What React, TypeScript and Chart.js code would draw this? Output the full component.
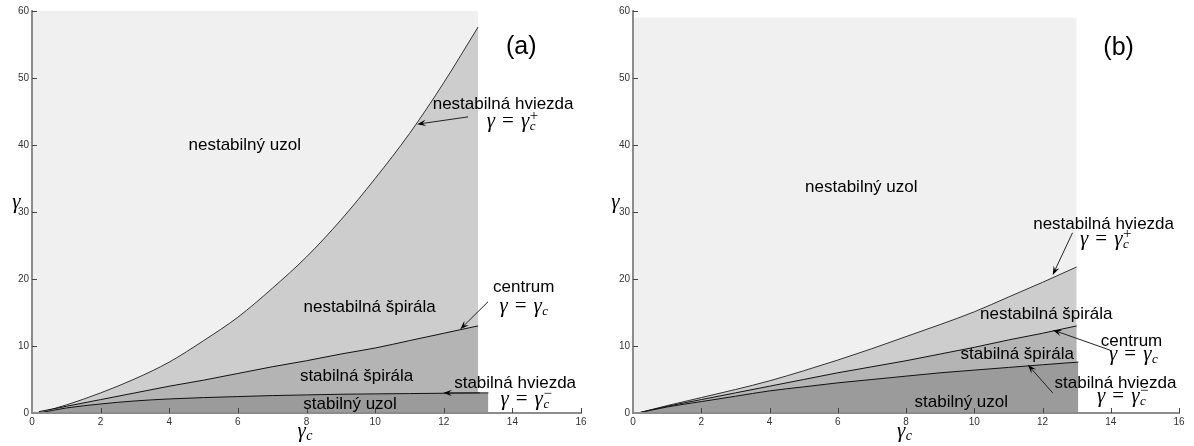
import React, { useEffect, useRef } from "react";
import { Chart, registerables } from "chart.js";

Chart.register(...registerables);

// ---------- Panel (a) data ----------
const xCurveA = [0.2, 1, 2, 3, 4, 5, 6, 7, 8, 9, 10, 11, 12, 13];
const topA = [0, 1.2, 3.0, 5.1, 7.6, 10.8, 14.3, 18.6, 23.3, 28.8, 35.0, 41.7, 49.3, 57.6];
const midA = [0.2, 1.0, 2.0, 3.0, 4.0, 4.9, 5.9, 6.9, 7.8, 8.8, 9.7, 10.8, 11.9, 13.0];
const xBotA = [0.2, 1, 2, 3, 4, 5, 6, 7, 8, 9, 10, 11, 12, 13, 13.3];
const botA = [0, 0.75, 1.35, 1.8, 2.1, 2.3, 2.45, 2.6, 2.7, 2.8, 2.85, 2.9, 2.95, 3.0, 3.0];
const xLightA = [0, 13];
const lightA = [60, 60];

// ---------- Panel (b) data ----------
const xCurveB = [0.15, 1, 2, 3, 4, 5, 6, 7, 8, 9, 10, 11, 12, 13];
const topB = [0, 1.1, 2.3, 3.5, 4.8, 6.3, 7.9, 9.6, 11.4, 13.2, 15.1, 17.3, 19.5, 21.8];
const midB = [0, 1.0, 2.0, 3.0, 4.0, 5.0, 6.0, 6.9, 7.8, 8.8, 9.8, 10.9, 11.9, 13.0];
const xBotB = [0.15, 1, 2, 3, 4, 5, 6, 7, 8, 9, 10, 11, 12, 13.05];
const botB = [0, 0.9, 1.7, 2.5, 3.3, 3.9, 4.5, 5.0, 5.5, 6.0, 6.4, 6.8, 7.2, 7.6];
const xLightB = [0, 13];
const lightB = [59, 59];

// ---------- axes ----------
const xTicks = [0, 2, 4, 6, 8, 10, 12, 14, 16];
const yTicks = [0, 10, 20, 30, 40, 50, 60];

const SANS = '"Liberation Sans", Arial, sans-serif';
const SERIF = '"Liberation Serif", "DejaVu Serif", serif';

type Note =
  | { kind: "text"; x: number; y: number; text: string; size?: number }
  | { kind: "eq"; x: number; y: number; sup: string }
  | { kind: "arrow"; x1: number; y1: number; x2: number; y2: number };

const notesA: Note[] = [
  { kind: "text", x: 6.2, y: 40, text: "nestabilný uzol" },
  { kind: "text", x: 14.26, y: 54.6, text: "(a)", size: 25 },
  { kind: "text", x: 13.73, y: 46.0, text: "nestabilná hviezda" },
  { kind: "eq", x: 13.97, y: 43.4, sup: "+" },
  { kind: "arrow", x1: 12.71, y1: 44.2, x2: 11.22, y2: 43.1 },
  { kind: "text", x: 9.84, y: 15.7, text: "nestabilná špirála" },
  { kind: "text", x: 14.33, y: 18.8, text: "centrum" },
  { kind: "eq", x: 14.34, y: 15.8, sup: "" },
  { kind: "arrow", x1: 13.29, y1: 16.6, x2: 12.48, y2: 12.5 },
  { kind: "text", x: 9.46, y: 5.5, text: "stabilná špirála" },
  { kind: "text", x: 14.08, y: 4.5, text: "stabilná hviezda" },
  { kind: "arrow", x1: 13.06, y1: 3.0, x2: 11.98, y2: 3.0 },
  { kind: "eq", x: 14.37, y: 1.9, sup: "−" },
  { kind: "text", x: 9.27, y: 1.3, text: "stabilný uzol" },
];

const notesB: Note[] = [
  { kind: "text", x: 6.69, y: 33.7, text: "nestabilný uzol" },
  { kind: "text", x: 14.23, y: 54.5, text: "(b)", size: 25 },
  { kind: "text", x: 13.79, y: 28.2, text: "nestabilná hviezda" },
  { kind: "eq", x: 13.82, y: 25.8, sup: "+" },
  { kind: "arrow", x1: 12.88, y1: 26.9, x2: 12.3, y2: 20.6 },
  { kind: "text", x: 12.11, y: 14.8, text: "nestabilná špirála" },
  { kind: "text", x: 14.61, y: 10.7, text: "centrum" },
  { kind: "eq", x: 14.67, y: 8.7, sup: "" },
  { kind: "arrow", x1: 13.97, y1: 9.4, x2: 12.3, y2: 12.4 },
  { kind: "text", x: 11.26, y: 8.7, text: "stabilná špirála" },
  { kind: "text", x: 14.14, y: 4.5, text: "stabilná hviezda" },
  { kind: "eq", x: 14.32, y: 2.4, sup: "−" },
  { kind: "arrow", x1: 12.3, y1: 3.0, x2: 11.57, y2: 7.2 },
  { kind: "text", x: 9.62, y: 1.6, text: "stabilný uzol" },
];

function drawEq(ctx: CanvasRenderingContext2D, cx: number, cy: number, sup: string) {
  const big = `italic 21px ${SERIF}`;
  const reg = `21px ${SERIF}`;
  const small = `italic 13px ${SERIF}`;
  const smallR = `15px ${SERIF}`;
  ctx.font = big;
  const wg = ctx.measureText("γ").width;
  ctx.font = reg;
  const we = ctx.measureText("=").width;
  ctx.font = small;
  const wc = ctx.measureText("c").width;
  const gap = 7;
  const total = wg + gap + we + gap + wg + wc + 1;
  let x = cx - total / 2;
  const base = cy + 5;
  ctx.textAlign = "left";
  ctx.textBaseline = "alphabetic";
  ctx.fillStyle = "#000";
  ctx.font = big;
  ctx.fillText("γ", x, base);
  x += wg + gap;
  ctx.font = reg;
  ctx.fillText("=", x, base);
  x += we + gap;
  ctx.font = big;
  ctx.fillText("γ", x, base);
  x += wg + 0.5;
  ctx.font = small;
  ctx.fillText("c", x, base + 3);
  if (sup) {
    ctx.font = smallR;
    ctx.fillText(sup, x, base - 7);
  }
}

function drawArrow(ctx: CanvasRenderingContext2D, x1: number, y1: number, x2: number, y2: number) {
  const ang = Math.atan2(y2 - y1, x2 - x1);
  const L = 9;
  const W = 3.2;
  ctx.strokeStyle = "#222";
  ctx.lineWidth = 1;
  ctx.beginPath();
  ctx.moveTo(x1, y1);
  ctx.lineTo(x2 - Math.cos(ang) * 4, y2 - Math.sin(ang) * 4);
  ctx.stroke();
  ctx.fillStyle = "#000";
  ctx.beginPath();
  ctx.moveTo(x2, y2);
  ctx.lineTo(x2 - L * Math.cos(ang) + W * Math.sin(ang), y2 - L * Math.sin(ang) - W * Math.cos(ang));
  ctx.lineTo(x2 - 0.6 * L * Math.cos(ang), y2 - 0.6 * L * Math.sin(ang));
  ctx.lineTo(x2 - L * Math.cos(ang) - W * Math.sin(ang), y2 - L * Math.sin(ang) + W * Math.cos(ang));
  ctx.closePath();
  ctx.fill();
}

function decorPlugin(notes: Note[], gammaX: number) {
  return {
    id: "decor",
    afterDraw(chart: any) {
      const { ctx, chartArea } = chart;
      const xs = chart.scales.x;
      const ys = chart.scales.y;
      ctx.save();
      // inward ticks
      ctx.strokeStyle = "#444";
      ctx.lineWidth = 1;
      ctx.beginPath();
      xTicks.forEach((v) => {
        if (v === 0) return;
        const px = Math.round(xs.getPixelForValue(v)) + 0.5;
        ctx.moveTo(px, chartArea.bottom);
        ctx.lineTo(px, chartArea.bottom - 5);
      });
      yTicks.forEach((v) => {
        if (v === 0) return;
        const py = Math.round(ys.getPixelForValue(v)) + 0.5;
        ctx.moveTo(chartArea.left, py);
        ctx.lineTo(chartArea.left + 5, py);
      });
      ctx.stroke();

      // annotations
      notes.forEach((n) => {
        if (n.kind === "text") {
          ctx.font = `${n.size ?? 17}px ${SANS}`;
          ctx.fillStyle = "#000";
          ctx.textAlign = "center";
          ctx.textBaseline = "middle";
          ctx.fillText(n.text, xs.getPixelForValue(n.x), ys.getPixelForValue(n.y));
        } else if (n.kind === "eq") {
          drawEq(ctx, xs.getPixelForValue(n.x), ys.getPixelForValue(n.y), n.sup);
        } else {
          drawArrow(
            ctx,
            xs.getPixelForValue(n.x1),
            ys.getPixelForValue(n.y1),
            xs.getPixelForValue(n.x2),
            ys.getPixelForValue(n.y2)
          );
        }
      });

      // axis titles
      ctx.fillStyle = "#000";
      ctx.textAlign = "center";
      ctx.textBaseline = "alphabetic";
      ctx.font = `italic 21px ${SERIF}`;
      ctx.fillText("γ", gammaX, ys.getPixelForValue(30) - 4);
      const cx = (chartArea.left + chartArea.right) / 2;
      ctx.textAlign = "left";
      ctx.font = `italic 21px ${SERIF}`;
      const wg = ctx.measureText("γ").width;
      ctx.fillText("γ", cx - 9, 437);
      ctx.font = `italic 14px ${SERIF}`;
      ctx.fillText("c", cx - 9 + wg + 0.5, 440);
      ctx.restore();
    },
  };
}

type Panel = {
  xTop: number[]; yTop: number[];
  xMid: number[]; yMid: number[];
  xBot: number[]; yBot: number[];
  xLight: number[]; yLight: number[];
  notes: Note[];
  yWidth: number;
  padRight: number;
  gammaX: number;
};

const pts = (xs: number[], ys: number[]) => xs.map((x, i) => ({ x, y: ys[i] }));

function makeConfig(p: Panel): any {
  const ds = (xs: number[], ys: number[], bg: string, bc: string, bw: number) => ({
    data: pts(xs, ys),
    fill: "origin",
    backgroundColor: bg,
    borderColor: bc,
    borderWidth: bw,
    pointRadius: 0,
    cubicInterpolationMode: "monotone",
  });
  return {
    type: "line",
    data: {
      datasets: [
        ds(p.xBot, p.yBot, "#9b9b9b", "#111", 1),
        ds(p.xMid, p.yMid, "#b4b4b4", "#111", 1),
        ds(p.xTop, p.yTop, "#cdcdcd", "#333", 1),
        ds(p.xLight, p.yLight, "#f0f0f0", "rgba(0,0,0,0)", 0),
      ],
    },
    options: {
      animation: false,
      responsive: false,
      events: [],
      layout: { padding: { left: 0, top: 11, right: p.padRight, bottom: 0 } },
      plugins: { legend: { display: false }, tooltip: { enabled: false } },
      scales: {
        x: {
          type: "linear",
          min: 0,
          max: 16,
          afterBuildTicks: (s: any) => {
            s.ticks = xTicks.map((v) => ({ value: v }));
          },
          afterFit: (s: any) => {
            s.height = 33;
          },
          grid: { display: false, drawTicks: false },
          border: { display: true, color: "#8c8c8c", width: 2, z: 1 },
          ticks: { font: { size: 10, family: SANS }, color: "#333", padding: 3, maxRotation: 0, autoSkip: false },
        },
        y: {
          type: "linear",
          min: 0,
          max: 60,
          afterBuildTicks: (s: any) => {
            s.ticks = yTicks.map((v) => ({ value: v }));
          },
          afterFit: (s: any) => {
            s.width = p.yWidth;
          },
          grid: { display: false, drawTicks: false },
          border: { display: true, color: "#8c8c8c", width: 2, z: 1 },
          ticks: { font: { size: 10, family: SANS }, color: "#333", padding: 3, autoSkip: false },
        },
      },
    },
    plugins: [decorPlugin(p.notes, p.gammaX)],
  };
}

const panelA: Panel = {
  xTop: xCurveA, yTop: topA,
  xMid: xCurveA, yMid: midA,
  xBot: xBotA, yBot: botA,
  xLight: xLightA, yLight: lightA,
  notes: notesA,
  yWidth: 32,
  padRight: 16,
  gammaX: 16.5,
};

const panelB: Panel = {
  xTop: xCurveB, yTop: topB,
  xMid: xCurveB, yMid: midB,
  xBot: xBotB, yBot: botB,
  xLight: xLightB, yLight: lightB,
  notes: notesB,
  yWidth: 36,
  padRight: 15,
  gammaX: 18.5,
};

function PanelChart({ panel, left }: { panel: Panel; left: number }) {
  const ref = useRef<HTMLCanvasElement | null>(null);
  useEffect(() => {
    if (!ref.current) return;
    const chart = new Chart(ref.current, makeConfig(panel));
    return () => chart.destroy();
  }, [panel]);
  return (
    <canvas
      ref={ref}
      width={597}
      height={446}
      style={{ position: "absolute", left, top: 0, width: 597, height: 446 }}
    />
  );
}

export default function App() {
  return (
    <div style={{ position: "absolute", left: 0, top: 0, width: 1194, height: 446, background: "#fff", overflow: "hidden" }}>
      <PanelChart panel={panelA} left={0} />
      <PanelChart panel={panelB} left={597} />
    </div>
  );
}
